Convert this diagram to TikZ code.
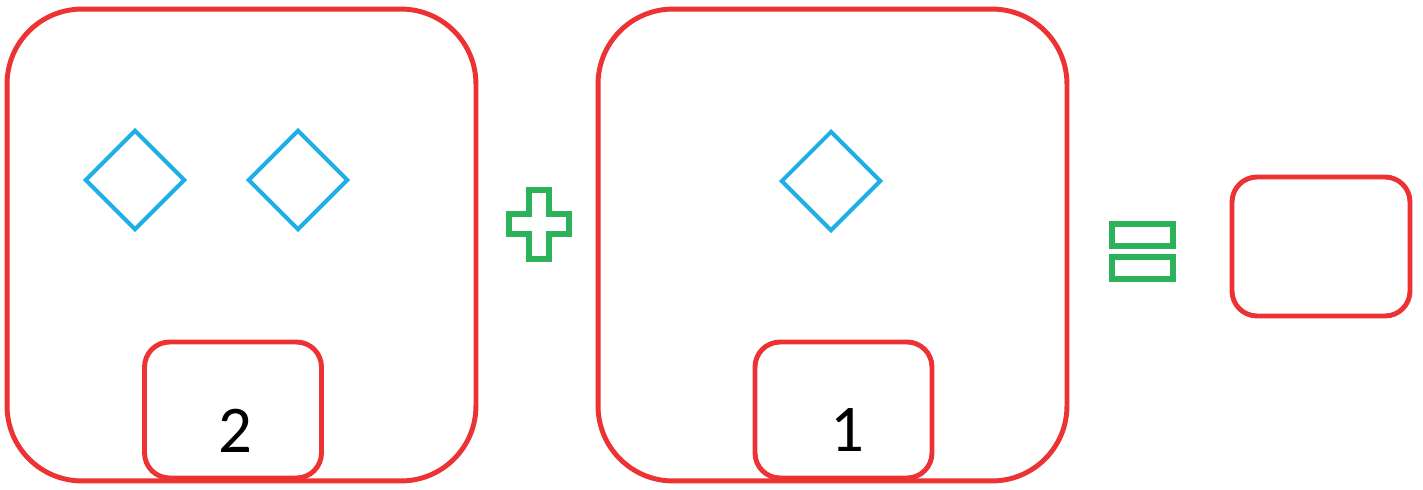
\documentclass[tikz,border=0pt]{standalone}
\usepackage{fontspec}
\setmainfont{Carlito}
\usepackage{tikz}
\usetikzlibrary{shapes.geometric}

\definecolor{boxred}{RGB}{237,50,52}
\definecolor{gemblue}{RGB}{29,175,230}
\definecolor{signgreen}{RGB}{44,178,90}

\begin{document}
\begin{tikzpicture}[
  x=0.02cm, y=-0.02cm,
  bigbox/.style={rectangle, draw=boxred, line width=2.8pt, rounded corners=1.5cm,
                 minimum width=9.38cm, minimum height=9.44cm, inner sep=0pt},
  smallbox/.style={rectangle, draw=boxred, line width=2.8pt, rounded corners=0.5cm,
                   minimum width=3.54cm, minimum height=2.72cm, inner sep=0pt},
  gem/.style={diamond, draw=gemblue, line width=2.3pt, minimum width=2cm,
              minimum height=2cm, inner sep=0pt},
  num/.style={font=\fontsize{38}{40}\selectfont, inner sep=0pt},
  sign/.style={draw=signgreen, line width=3.2pt},
]
\useasboundingbox (0,0) rectangle (1423,490);
% left factor
\node[bigbox] (leftbox) at (241.5,245) {};
\node[gem] (gemA) at (135,180) {};
\node[gem] (gemB) at (298,180) {};
\node[smallbox] (leftcount) at (233,410) {};
\node[num] (leftnum) at (235,431) {2};
% plus
\draw[sign] (529,190) -- (549,190) -- (549,214) -- (569,214) -- (569,234) -- (549,234)
  -- (549,259) -- (529,259) -- (529,234) -- (509,234) -- (509,214) -- (529,214) -- cycle;
% right factor
\node[bigbox] (rightbox) at (832.5,245) {};
\node[gem] (gemC) at (831,181) {};
\node[smallbox] (rightcount) at (843.5,410) {};
\node[num] (rightnum) at (847,430) {1};
% equals
\draw[sign] (1112,224) rectangle (1173,246);
\draw[sign] (1112,257) rectangle (1173,279);
% result
\node[smallbox, minimum width=3.56cm, minimum height=2.78cm] (result) at (1321,246.5) {};
\end{tikzpicture}
\end{document}
